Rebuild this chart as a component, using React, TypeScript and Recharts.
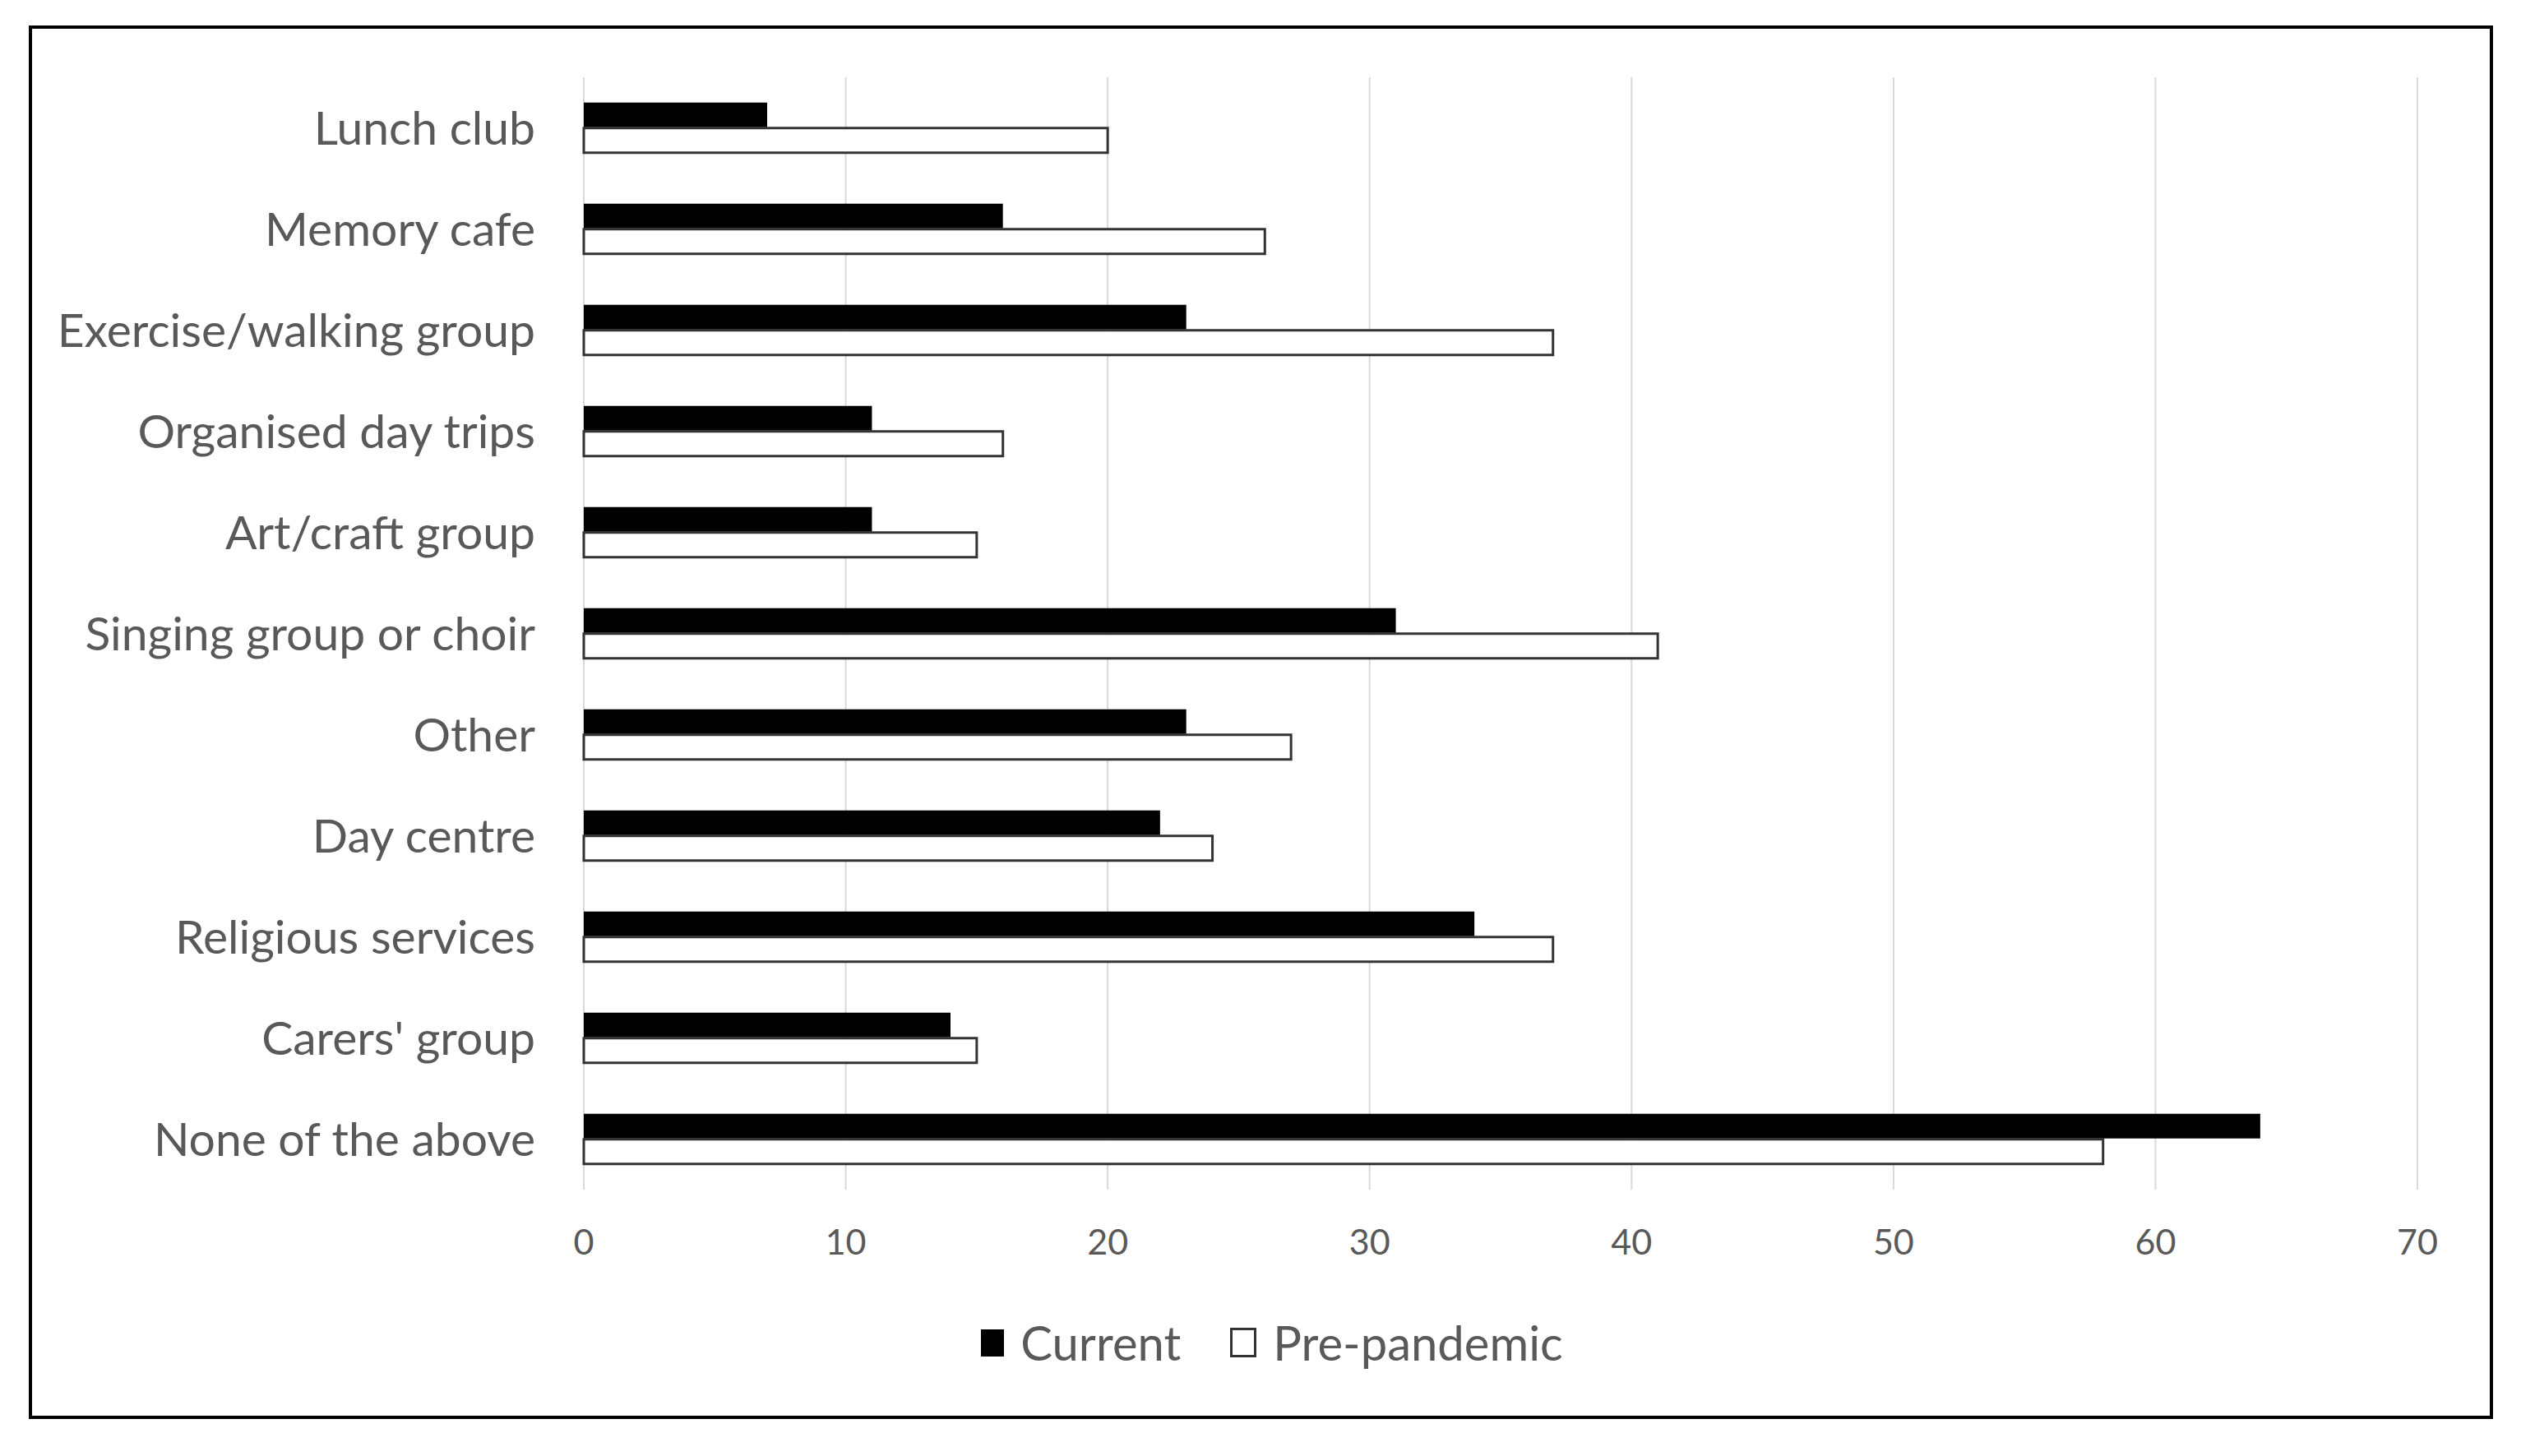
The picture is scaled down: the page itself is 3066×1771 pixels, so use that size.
import React from 'react';
import {
    BarChart,
    Bar,
    XAxis,
    YAxis,
    CartesianGrid,
    Legend,
} from 'recharts';

const categories = [
    'Lunch club',
    'Memory cafe',
    'Exercise/walking group',
    'Organised day trips',
    'Art/craft group',
    'Singing group or choir',
    'Other',
    'Day centre',
    'Religious services',
    "Carers' group",
    'None of the above',
];

const currentValues = [7, 16, 23, 11, 11, 31, 23, 22, 34, 14, 64];
const prePandemicValues = [20, 26, 37, 16, 15, 41, 27, 24, 37, 15, 58];

const xTicks = [0, 10, 20, 30, 40, 50, 60, 70];

const data = categories.map((name, i) => ({
    name,
    current: currentValues[i],
    pre: prePandemicValues[i],
}));

const FONT = 'Lato, "Open Sans", sans-serif';
const TEXT = '#595959';

function LegendContent(props: any) {
    const items = props.payload || [];
    return (
        <div style={{ display: 'flex', justifyContent: 'center', alignItems: 'center', fontFamily: FONT }}>
            {items.map((item: any) => {
                const isPre = item.dataKey === 'pre';
                return (
                    <div key={item.value} style={{ display: 'flex', alignItems: 'center', margin: '0 30px' }}>
                        <span
                            style={{
                                display: 'inline-block',
                                width: isPre ? 26 : 28,
                                height: isPre ? 30 : 33,
                                background: isPre ? '#fff' : '#000',
                                border: isPre ? '3px solid #333' : 'none',
                                boxSizing: 'content-box',
                                marginRight: 20,
                            }}
                        />
                        <span style={{ fontSize: 58, color: TEXT, lineHeight: 1 }}>{item.value}</span>
                    </div>
                );
            })}
        </div>
    );
}

export default function App() {
    return (
        <div style={{ position: 'absolute', left: 0, top: 0, width: 3066, height: 1771, background: '#fff' }}>
            <div
                style={{
                    position: 'absolute',
                    left: 35,
                    top: 31,
                    width: 2997,
                    height: 1695,
                    border: '4px solid #000',
                    boxSizing: 'border-box',
                }}
            />
            <div style={{ position: 'absolute', left: 0, top: 0 }}>
                <BarChart
                    width={3066}
                    height={1771}
                    data={data}
                    layout="vertical"
                    margin={{ top: 94, right: 126, left: 70, bottom: 224 }}
                    barCategoryGap="25%"
                    barGap={1}
                >
                    <CartesianGrid horizontal={false} stroke="#d9d9d9" strokeWidth={2} />
                    <XAxis
                        type="number"
                        domain={[0, 70]}
                        ticks={xTicks}
                        axisLine={false}
                        tickLine={false}
                        tickSize={0}
                        tickMargin={48}
                        height={100}
                        tick={{ fill: TEXT, fontSize: 43, fontFamily: FONT }}
                    />
                    <YAxis
                        type="category"
                        dataKey="name"
                        width={640}
                        axisLine={false}
                        tickLine={false}
                        tickSize={0}
                        tickMargin={59}
                        interval={0}
                        tick={{ fill: TEXT, fontSize: 57, fontFamily: FONT }}
                    />
                    <Legend
                        layout="horizontal"
                        verticalAlign="middle"
                        align="center"
                        wrapperStyle={{ top: 1604, left: 14, width: 3066 }}
                        content={<LegendContent />}
                    />
                    <Bar dataKey="current" name="Current" fill="#000" isAnimationActive={false} />
                    <Bar
                        dataKey="pre"
                        name="Pre-pandemic"
                        fill="#fff"
                        stroke="#333"
                        strokeWidth={3}
                        isAnimationActive={false}
                    />
                </BarChart>
            </div>
        </div>
    );
}
